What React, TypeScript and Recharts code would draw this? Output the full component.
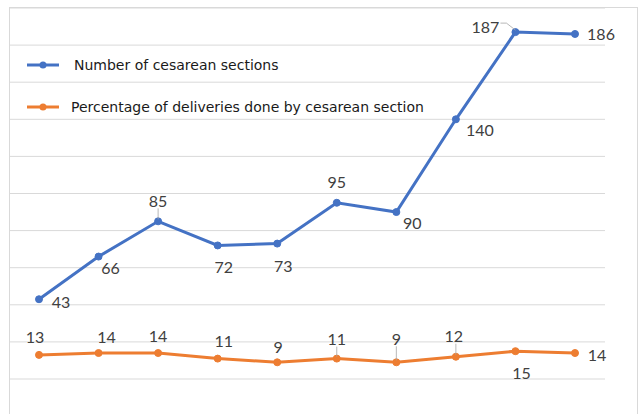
import { LineChart, Line, XAxis, YAxis, CartesianGrid, Legend, LabelList } from "recharts";

const PERIODS = ["1", "2", "3", "4", "5", "6", "7", "8", "9", "10"];
const CESAREAN_COUNT = [43, 66, 85, 72, 73, 95, 90, 140, 187, 186];
const CESAREAN_PCT = [13, 14, 14, 11, 9, 11, 9, 12, 15, 14];
const Y_TICKS = [0, 20, 40, 60, 80, 100, 120, 140, 160, 180, 200];

const BLUE = "#4472C4";
const ORANGE = "#ED7D31";
const GRID = "#D9D9D9";

// label placement relative to each marker: [dx, dy, leader]
const COUNT_LABEL_POS: [number, number, boolean][] = [
  [22, 2, false], [12, 11, false], [0, -21, true], [6, 21, false], [6, 22, false],
  [0, -21, false], [16, 10, false], [24, 10, false], [-30, -6, true], [26, 0, false],
];
const PCT_LABEL_POS: [number, number, boolean][] = [
  [-4, -18, false], [8, -17, false], [0, -18, false], [6, -18, false], [1, -16, false],
  [0, -20, true], [0, -24, true], [-2, -21, true], [6, 21, false], [22, 1, false],
];

const chartData = PERIODS.map((p, i) => ({
  period: p,
  count: CESAREAN_COUNT[i],
  pct: CESAREAN_PCT[i],
}));

function makeLabel(pos: [number, number, boolean][]) {
  return (props: any) => {
    const { x, y, value, index } = props;
    const [dx, dy, leader] = pos[index] ?? [0, -15, false];
    const tx = x + dx;
    const ty = y + dy;
    return (
      <g>
        {leader && (
          <polyline
            points={dx < -10 ? `${tx + 15},${ty - 3} ${tx + 21},${ty - 3} ${x},${y - 2}` : `${x},${ty + 8} ${x},${y - 2}`}
            fill="none"
            stroke="#A6A6A6"
            strokeWidth={0.8}
          />
        )}
        <text
          x={tx}
          y={ty}
          textAnchor="middle"
          dominantBaseline="central"
          fontFamily="Lato, 'Open Sans', sans-serif"
          fontSize={16}
          fill="#404040"
        >
          {value}
        </text>
      </g>
    );
  };
}

function LegendIcon({ color }: { color: string }) {
  return (
    <svg width={34} height={10} style={{ display: "block" }}>
      <line x1={1} y1={5} x2={33} y2={5} stroke={color} strokeWidth={3} />
      <circle cx={17} cy={5} r={3.5} fill={color} />
    </svg>
  );
}

function renderLegend() {
  const rows = [
    { color: BLUE, label: "Number of cesarean sections", gap: 14, top: 0 },
    { color: ORANGE, label: "Percentage of deliveries done by cesarean section", gap: 11, top: 42 },
  ];
  return (
    <div style={{ position: "relative", width: 440, height: 60 }}>
      {rows.map((r) => (
        <div
          key={r.label}
          style={{
            position: "absolute",
            top: r.top,
            left: 0,
            display: "flex",
            alignItems: "center",
            fontFamily: "'DejaVu Sans', sans-serif",
            fontSize: 14,
            color: "#1a1a1a",
            whiteSpace: "nowrap",
          }}
        >
          <LegendIcon color={r.color} />
          <span style={{ marginLeft: r.gap }}>{r.label}</span>
        </div>
      ))}
    </div>
  );
}

export default function App() {
  return (
    <div style={{ position: "absolute", left: 0, top: 0, width: 641, height: 414, overflow: "hidden", background: "#fff" }}>
      <div
        style={{
          position: "absolute",
          left: 9,
          top: 7,
          width: 629,
          height: 440,
          border: `1px solid ${GRID}`,
          boxSizing: "border-box",
        }}
      />
      <div style={{ position: "absolute", left: 0, top: 0 }}>
        <LineChart
          width={641}
          height={414}
          data={chartData}
          margin={{ top: 8, right: 36, bottom: 35, left: 9 }}
        >
          <CartesianGrid vertical={false} stroke={GRID} strokeWidth={1} />
          <XAxis dataKey="period" hide padding={{ left: 30, right: 30 }} />
          <YAxis hide domain={[0, 200]} ticks={Y_TICKS} />
          <Legend
            layout="vertical"
            align="center"
            verticalAlign="middle"
            content={renderLegend}
            wrapperStyle={{ top: 57, left: 26, width: 440 }}
          />
          <Line
            dataKey="count"
            name="Number of cesarean sections"
            stroke={BLUE}
            strokeWidth={3}
            dot={{ r: 3.5, fill: BLUE, stroke: BLUE, strokeWidth: 1 }}
            isAnimationActive={false}
          >
            <LabelList dataKey="count" content={makeLabel(COUNT_LABEL_POS)} />
          </Line>
          <Line
            dataKey="pct"
            name="Percentage of deliveries done by cesarean section"
            stroke={ORANGE}
            strokeWidth={3}
            dot={{ r: 3.5, fill: ORANGE, stroke: ORANGE, strokeWidth: 1 }}
            isAnimationActive={false}
          >
            <LabelList dataKey="pct" content={makeLabel(PCT_LABEL_POS)} />
          </Line>
        </LineChart>
      </div>
    </div>
  );
}
